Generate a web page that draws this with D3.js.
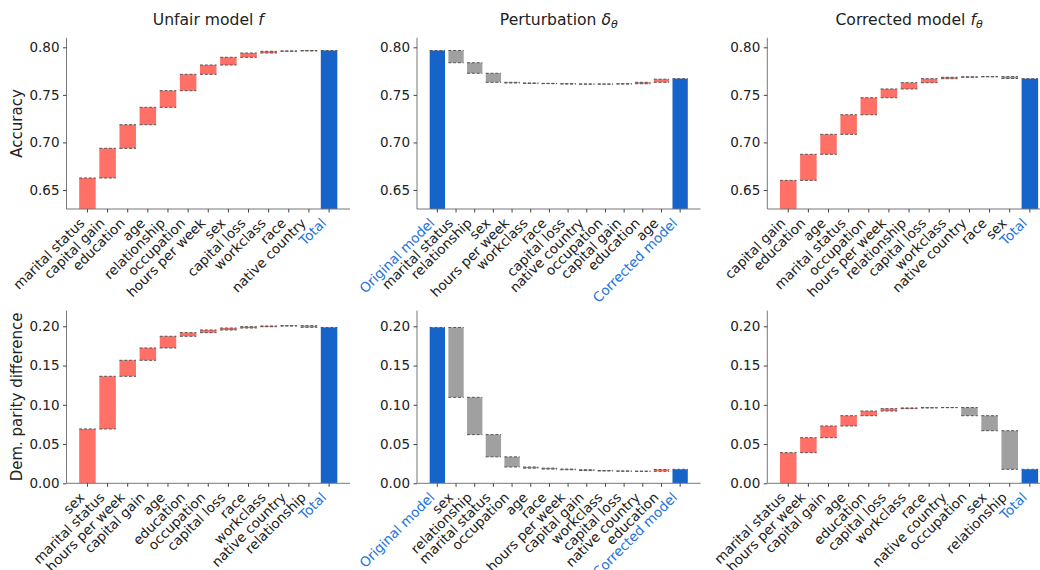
<!DOCTYPE html>
<html><head><meta charset="utf-8">
<script src="https://cdn.jsdelivr.net/npm/d3@7"></script>
<style>body{margin:0;background:#fff} text{font-family:"DejaVu Sans",sans-serif}</style>
</head><body><svg id="c" width="1040" height="570"></svg>
<script>
// ---- Data (cumulative level reached after each step) ----
const unfairAccCats = ["marital status","capital gain","education","age","relationship","occupation","hours per week","sex","capital loss","workclass","race","native country","Total"];
const unfairAccLevels = [0.6626,0.6938,0.7186,0.7369,0.7544,0.7716,0.7814,0.7895,0.7940,0.7958,0.7962,0.7966,0.7966];

const pertAccCats = ["Original model","marital status","relationship","sex","hours per week","workclass","race","capital loss","native country","occupation","capital gain","education","age","Corrected model"];
const pertAccLevels = [0.7966,0.7838,0.7727,0.7632,0.7625,0.7621,0.7618,0.7614,0.7613,0.7614,0.7617,0.7632,0.7665,0.7670];

const corrAccCats = ["capital gain","education","age","marital status","occupation","hours per week","relationship","capital loss","workclass","native country","race","sex","Total"];
const corrAccLevels = [0.6601,0.6875,0.7085,0.7291,0.7470,0.7562,0.7628,0.7670,0.7685,0.7690,0.7692,0.7672,0.7670];

const unfairDpCats = ["sex","marital status","hours per week","capital gain","age","education","occupation","capital loss","race","workclass","native country","relationship","Total"];
const unfairDpLevels = [0.0692,0.1363,0.1567,0.1724,0.1873,0.1919,0.1953,0.1978,0.1995,0.2004,0.2008,0.1987,0.1985];

const pertDpCats = ["Original model","sex","relationship","marital status","occupation","age","race","hours per week","capital gain","workclass","capital loss","native country","education","Corrected model"];
const pertDpLevels = [0.1985,0.1095,0.0620,0.0337,0.0208,0.0193,0.0181,0.0173,0.0162,0.0157,0.0154,0.0153,0.0176,0.0178];

const corrDpCats = ["marital status","hours per week","capital gain","age","education","capital loss","workclass","race","native country","occupation","sex","relationship","Total"];
const corrDpLevels = [0.0390,0.0581,0.0730,0.0861,0.0921,0.0951,0.0960,0.0964,0.0965,0.0861,0.0670,0.0178,0.0178];

const accTicks = [0.65,0.70,0.75,0.80];
const dpTicks = [0.00,0.05,0.10,0.15,0.20];
const totalNames = ["Total","Original model","Corrected model"];

// ---- Style ----
const RED = "#ff7066", GRAY = "#a0a0a0", BLUE = "#1664ca", LBLUE = "#2474dc";
const FS = "13.5px";
const svg = d3.select("#c");
const panelLefts = [66.5, 417, 767.3];
const panelW = 283.5;
const rows = [{top:37.8, bottom:209, domain:[0.63,0.81], ticks:accTicks, label:"Accuracy"},
              {top:310.6, bottom:483.3, domain:[0,0.22], ticks:dpTicks, label:"Dem. parity difference"}];

let clipId = 0;
function panel(cats, levels, col, row) {
  const R = rows[row];
  const left = panelLefts[col];
  const n = cats.length;
  const m = 0.05*(n - 0.2);
  const x = d3.scaleLinear().domain([-0.4 - m, n - 1 + 0.4 + m]).range([left, left + panelW]);
  const y = d3.scaleLinear().domain(R.domain).range([R.bottom, R.top]);
  const g = svg.append("g");
  const id = "clip" + (clipId++);
  g.append("clipPath").attr("id", id).append("rect")
    .attr("x", left).attr("y", R.top).attr("width", panelW).attr("height", R.bottom - R.top);
  const plot = g.append("g").attr("clip-path", `url(#${id})`);
  const bw = 0.82;
  const bars = cats.map((c, i) => {
    const isTot = totalNames.includes(c);
    const y0 = isTot || i === 0 ? 0 : levels[i-1];
    const y1 = levels[i];
    return {c, i, isTot, y0, y1, color: isTot ? BLUE : (y1 >= y0 ? RED : GRAY)};
  });
  plot.selectAll("rect.bar").data(bars).join("rect").attr("class","bar")
    .attr("x", d => x(d.i - bw/2)).attr("width", x(bw) - x(0))
    .attr("y", d => y(Math.max(d.y0, d.y1))).attr("height", d => Math.abs(y(d.y0) - y(d.y1)))
    .attr("fill", d => d.color);
  const lines = [];
  bars.forEach(d => {
    if (!d.isTot) { if (d.i > 0) lines.push({i:d.i, v:d.y0}); lines.push({i:d.i, v:d.y1}); }
    else lines.push({i:d.i, v:d.y1});
  });
  plot.selectAll("line.dash").data(lines).join("line").attr("class","dash")
    .attr("x1", d => x(d.i - bw/2)).attr("x2", d => x(d.i + bw/2))
    .attr("y1", d => y(d.v)).attr("y2", d => y(d.v))
    .attr("stroke", "#555").attr("stroke-width", 1).attr("stroke-dasharray", "3,1.8");

  // y axis
  const ya = g.append("g").attr("transform", `translate(${left},0)`)
    .call(d3.axisLeft(y).tickValues(R.ticks).tickFormat(d3.format(".2f")).tickSize(3.5).tickPadding(3.5));
  ya.select(".domain").attr("d", `M0,${R.top}V${R.bottom}`).attr("stroke", "#777");
  ya.selectAll(".tick line").attr("stroke", "#444");
  ya.selectAll(".tick text").attr("font-size", FS).attr("fill", "#222").attr("font-family", "DejaVu Sans");
  // x axis
  const xa = g.append("g").attr("transform", `translate(0,${R.bottom})`);
  xa.append("line").attr("x1", left).attr("x2", left + panelW).attr("y1", 0).attr("y2", 0).attr("stroke", "#777");
  const tk = xa.selectAll("g.xt").data(cats).join("g").attr("class","xt")
    .attr("transform", (d, i) => `translate(${x(i)},0)`);
  tk.append("line").attr("y1", 0).attr("y2", 3.5).attr("stroke", "#444");
  tk.append("text").text(d => d)
    .attr("transform", "translate(-2,15) rotate(-45)")
    .attr("text-anchor", "end").attr("font-size", FS)
    .attr("fill", d => totalNames.includes(d) ? LBLUE : "#222");
  // y label
  if (col === 0) {
    svg.append("text").attr("transform", `translate(22,${(R.top + R.bottom)/2}) rotate(-90)`)
      .attr("text-anchor", "middle").attr("font-size", "15px").attr("fill", "#222").text(R.label);
  }
  return x;
}

panel(unfairAccCats, unfairAccLevels, 0, 0);
panel(pertAccCats, pertAccLevels, 1, 0);
panel(corrAccCats, corrAccLevels, 2, 0);
panel(unfairDpCats, unfairDpLevels, 0, 1);
panel(pertDpCats, pertDpLevels, 1, 1);
panel(corrDpCats, corrDpLevels, 2, 1);

// titles
const titles = [
  [{t:"Unfair model "}, {t:"f", it:true}],
  [{t:"Perturbation "}, {t:"δ", it:true}, {t:"θ", it:true, sub:true}],
  [{t:"Corrected model "}, {t:"f", it:true}, {t:"θ", it:true, sub:true}]
];
titles.forEach((parts, k) => {
  const tx = svg.append("text").attr("x", panelLefts[k] + panelW/2).attr("y", 25)
    .attr("text-anchor", "middle").attr("font-size", "15.6px").attr("fill", "#222");
  parts.forEach(p => {
    const s = tx.append("tspan").text(p.t);
    if (p.it) s.attr("font-style", "italic");
    if (p.sub) s.attr("font-size", "11px").attr("dy", "3");
  });
});
</script></body></html>
